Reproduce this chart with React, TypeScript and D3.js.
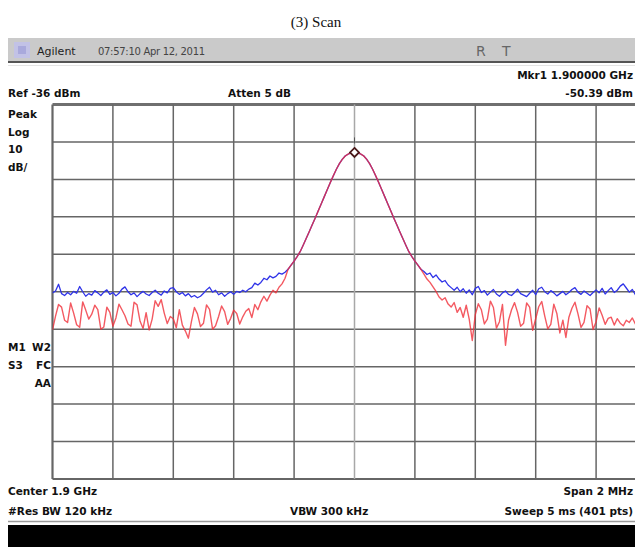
import React from "react";
import * as d3 from "d3";

// ---------- text ----------
const titleText = "(3) Scan";
const headerBrand = "Agilent";
const headerTime = "07:57:10  Apr 12, 2011";
const markerFreqText = "Mkr1  1.900000 GHz";
const markerAmpText = "-50.39 dBm";
const refText = "Ref -36 dBm";
const attenText = "Atten 5 dB";
const leftTopLabels = ["Peak", "Log", "10", "dB/"];
const leftMidLabels = [["M1", "W2"], ["S3", "FC"], ["", "AA"]];
const centerText = "Center 1.9 GHz";
const spanText = "Span 2 MHz";
const resBwText = "#Res BW 120 kHz";
const vbwText = "VBW 300 kHz";
const sweepText = "Sweep 5 ms (401 pts)";

// ---------- scale settings ----------
const refLevel = -36; // dBm at top of screen
const dbPerDiv = 10;
const vDivs = 10;
const hDivs = 10;
const spanMHz = 2;
const pointStepMHz = 0.01;

// ---------- trace data (dBm) ----------
const blueLeft = [
  -86.3, -85.8, -84.0, -86.5, -87.0, -86.2, -86.8, -85.9, -86.4, -84.6, -86.0, -87.2, -86.5, -86.9, -85.7, -86.3, -87.0, -86.1, -85.5, -86.7,
  -86.2, -87.1, -86.4, -85.3, -84.7, -86.0, -86.8, -86.3, -87.3, -86.5, -85.9, -86.6, -87.0, -86.2, -85.6, -86.4, -86.9, -85.8, -86.3, -85.1,
  -84.9, -86.0, -86.7, -86.2, -87.1, -86.5, -87.4, -87.0, -87.6, -87.2, -86.4, -85.5, -84.8, -86.1, -85.6, -86.8, -86.3, -87.2, -86.5, -86.0,
  -86.7, -85.9, -86.2, -85.6, -86.0, -85.3, -84.9, -83.7, -84.2, -83.5, -82.4, -82.8, -81.8, -82.3, -81.9, -81.0, -81.3, -80.8,
];
const peakShape = [
  -80.0, -78.9, -77.8, -76.6, -75.3, -73.6, -71.8, -70.0, -68.1, -66.3, -64.4, -62.5, -60.6, -58.7, -56.8, -55.0, -53.3, -51.8, -50.6, -49.7, -49.2, -48.9,
  -48.8,
  -48.9, -49.2, -49.7, -50.6, -51.8, -53.3, -55.0, -56.8, -58.7, -60.6, -62.5, -64.4, -66.3, -68.1, -70.0, -71.8, -73.6, -75.3, -76.6, -77.8, -78.9, -80.0,
];
const blueRight = [
  -80.6, -81.4, -81.0, -82.2, -81.5, -82.6, -83.4, -83.0, -84.2, -84.9, -85.6, -84.8, -86.0, -85.2, -86.4, -85.5, -86.8, -85.1,
  -84.6, -86.2, -85.7, -86.9, -86.1, -85.4, -86.6, -87.2, -86.3, -85.8, -86.7, -87.0, -86.2, -85.3, -86.5, -86.9, -87.3, -86.4, -85.6, -86.8,
  -85.2, -84.8, -86.0, -86.6, -85.7, -86.3, -87.1, -86.5, -85.9, -86.8, -86.2, -85.4, -84.9, -86.1, -86.7, -85.8, -86.4, -87.0, -86.2, -85.5,
  -86.3, -85.1, -86.6, -85.7, -84.9, -86.2, -85.6, -84.5, -83.9, -85.0, -86.1, -85.4, -86.8, -86.0, -85.3, -86.5, -85.8, -86.2, -85.6, -86.4,
];
const redLeft = [
  -96.2, -92.5, -89.4, -90.1, -93.6, -94.2, -89.0, -91.7, -94.8, -95.5, -88.7, -90.9, -93.3, -92.0, -89.6, -90.8, -96.0, -95.4, -90.1, -91.5,
  -95.2, -93.0, -89.3, -90.8, -92.4, -94.6, -95.2, -88.8, -89.5, -93.9, -95.8, -91.6, -96.2, -93.3, -88.4, -89.9, -88.1, -91.7, -94.5, -92.6,
  -93.2, -95.6, -90.8, -94.9, -96.5, -98.4, -94.0, -90.2, -91.9, -95.3, -94.4, -89.5, -90.7, -96.0, -95.1, -92.6, -89.8, -91.3, -94.7, -93.1,
  -90.9, -91.8, -94.6, -92.7, -91.2, -90.5, -92.9, -89.4, -90.8, -88.7, -87.2, -88.5, -86.9, -85.6, -86.3, -84.8, -83.9, -82.4,
];
const redRight = [
  -81.3, -82.6, -83.5, -84.7, -85.9, -87.4, -88.2, -87.6, -89.3, -90.1, -88.9, -91.5, -90.2, -92.8, -89.6, -93.4, -99.0, -92.1,
  -89.2, -90.8, -94.6, -93.3, -88.5, -90.2, -95.7, -94.0, -89.4, -100.3, -93.6, -90.8, -88.9, -91.5, -95.2, -94.4, -89.0, -90.1, -96.3, -93.2,
  -90.0, -88.6, -92.5, -95.9, -94.7, -89.3, -91.8, -97.0, -93.6, -98.2, -92.8, -90.4, -88.8, -91.9, -95.5, -94.2, -89.7, -90.6, -96.1, -94.0,
  -90.3, -92.3, -94.7, -93.1, -92.8, -94.9, -93.2, -94.4, -95.1, -93.6, -94.2, -93.0, -94.6, -93.9, -94.3, -93.4, -94.8, -93.7, -94.1, -93.5,
];

const blueTrace = [...blueLeft, ...peakShape, ...blueRight];
const redTrace = [...redLeft, ...peakShape, ...redRight];

const FONT = "'DejaVu Sans', Verdana, sans-serif";

export default function App() {
  const W = 635;
  const H = 547;
  const plotL = 52.5;
  const plotR = 656.5;
  const plotT = 104.5;
  const plotB = 479;

  const x = d3.scaleLinear().domain([-spanMHz / 2, spanMHz / 2]).range([plotL, plotR]);
  const y = d3
    .scaleLinear()
    .domain([refLevel, refLevel - dbPerDiv * vDivs])
    .range([plotT, plotB]);

  const freqs = blueTrace.map((_, i) => -spanMHz / 2 + i * pointStepMHz);
  const line = d3
    .line<number>()
    .x((_, i) => x(freqs[i]))
    .y((d) => y(d));

  const vLines = d3.range(hDivs + 1).map((i) => -spanMHz / 2 + (i * spanMHz) / hDivs);
  const hLines = d3.range(vDivs + 1).map((i) => refLevel - i * dbPerDiv);

  const peakIdx = d3.maxIndex(redTrace);
  const mx = x(freqs[peakIdx]);
  const my = y(redTrace[peakIdx]);

  const txt = { fontFamily: FONT, fontWeight: 700, fontSize: 10.5, fill: "#111" } as const;

  return (
    <svg
      width={W}
      height={H}
      style={{ position: "absolute", left: 0, top: 0, background: "#fff" }}
    >
      <rect x={0} y={0} width={W} height={H} fill="#fff" />
      {/* title */}
      <text x={316} y={27} textAnchor="middle" fontFamily="'Liberation Serif', 'Times New Roman', serif" fontSize={15} fill="#111">
        {titleText}
      </text>

      {/* header bar */}
      <rect x={8} y={38} width={W - 8} height={24} fill="#cacaca" />
      <rect x={8} y={61} width={W - 8} height={2} fill="#555" />
      <line x1={8} x2={W} y1={65.5} y2={65.5} stroke="#e4e4e4" strokeWidth={1} />
      <rect x={14} y={42} width={16} height={16} fill="#c2c2e6" />
      <rect x={18} y={46} width={8} height={8} fill="#a9a9dc" />
      <text x={37} y={55} fontFamily={FONT} fontSize={11} fill="#222">
        {headerBrand}
      </text>
      <text x={98} y={55} fontFamily={FONT} fontSize={10} fill="#444" letterSpacing={-0.3}>
        {headerTime}
      </text>
      <text x={476} y={56} fontFamily={FONT} fontSize={14} fill="#666">R</text>
      <text x={502} y={56} fontFamily={FONT} fontSize={14} fill="#666">T</text>

      {/* annotations above plot */}
      <text {...txt} x={633} y={79} textAnchor="end">{markerFreqText}</text>
      <text {...txt} x={8} y={97}>{refText}</text>
      <text {...txt} x={228} y={97}>{attenText}</text>
      <text {...txt} x={633} y={97} textAnchor="end">{markerAmpText}</text>

      {/* left labels */}
      {leftTopLabels.map((s, i) => (
        <text key={s} {...txt} x={8} y={118 + i * 17.5}>{s}</text>
      ))}
      {leftMidLabels.map((pair, i) => (
        <g key={i}>
          <text {...txt} x={8} y={351 + i * 18}>{pair[0]}</text>
          <text {...txt} x={51} y={351 + i * 18} textAnchor="end">{pair[1]}</text>
        </g>
      ))}

      {/* grid */}
      <g>
        {hLines.map((v, i) => (
          <line
            key={"h" + i}
            x1={plotL}
            x2={plotR}
            y1={y(v)}
            y2={y(v)}
            stroke={i === 0 ? "#6f6f6f" : "#666"}
            strokeWidth={i === 0 ? 3 : i === vDivs ? 2 : 1.5}
          />
        ))}
        {vLines.map((f, i) => (
          <line
            key={"v" + i}
            x1={x(f)}
            x2={x(f)}
            y1={plotT}
            y2={plotB}
            stroke={i === hDivs / 2 ? "#a8a8a8" : "#666"}
            strokeWidth={i === 0 ? 2.2 : 1.5}
          />
        ))}
      </g>

      {/* traces */}
      <defs>
        <clipPath id="plotClip">
          <rect x={plotL} y={plotT} width={plotR - plotL} height={plotB - plotT} />
        </clipPath>
      </defs>
      <g clipPath="url(#plotClip)">
        <path d={line(blueTrace) ?? ""} fill="none" stroke="#2f33e8" strokeWidth={1.3} strokeLinejoin="round" />
        <path d={line(redTrace) ?? ""} fill="none" stroke="#f0303a" strokeWidth={1.4} strokeOpacity={0.8} strokeLinejoin="round" />
      </g>

      {/* marker */}
      <path
        d={`M${mx},${my - 4.5} L${mx + 4.5},${my} L${mx},${my + 4.5} L${mx - 4.5},${my} Z`}
        fill="#fff"
        stroke="#4a1a1a"
        strokeWidth={1.8}
      />
      <line x1={mx} x2={mx} y1={my - 15} y2={my - 9} stroke="#555" strokeWidth={1} />

      {/* bottom annotations */}
      <text {...txt} x={8} y={495}>{centerText}</text>
      <text {...txt} x={633} y={495} textAnchor="end">{spanText}</text>
      <text {...txt} x={8} y={515}>{resBwText}</text>
      <text {...txt} x={290} y={515}>{vbwText}</text>
      <text {...txt} x={633} y={515} textAnchor="end">{sweepText}</text>

      <line x1={8} x2={W} y1={521.5} y2={521.5} stroke="#999" strokeWidth={1.5} />
      <rect x={8} y={525} width={W - 8} height={H - 525} fill="#000" />
    </svg>
  );
}
